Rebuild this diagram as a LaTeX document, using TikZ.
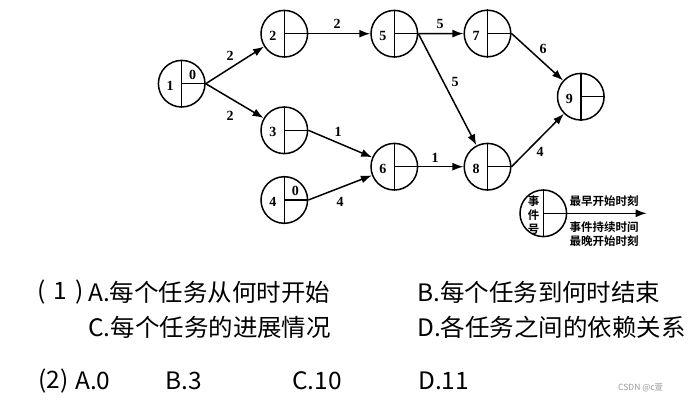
\documentclass[tikz,border=0pt]{standalone}
\usepackage{fontspec}
\setmainfont{Liberation Serif}
\newfontfamily\cjk[FakeStretch=1.02]{Noto Sans CJK SC}
\newfontfamily\cjkwm{Noto Sans CJK SC}
\newfontfamily\cjkb{Noto Sans CJK SC Bold}
\usetikzlibrary{arrows.meta}
\begin{document}
\begin{tikzpicture}[x=1pt,y=-1pt,
  ev/.style={circle,draw,line width=1.5,minimum size=46.6,inner sep=0},
  arr/.style={line width=1.5,-{Latex[length=11,width=8]}},
  num/.style={font=\fontsize{14}{14}\selectfont\bfseries,inner sep=0},
  lab/.style={font=\fontsize{14}{14}\selectfont\bfseries,inner sep=0},
  leg/.style={font=\fontsize{11.5}{11.5}\cjkb\selectfont,inner sep=0},
  q/.style={font=\fontsize{24}{24}\cjk\selectfont,inner sep=0,anchor=west},
  wm/.style={font=\fontsize{8.5}{8.5}\cjkwm\selectfont,inner sep=0,anchor=west,text=black!40}]
\useasboundingbox[fill=white] (0,0) rectangle (689,402);
% events
\foreach \n/\x/\y in {1/181.7/83.7, 2/284.3/33.7, 3/284.3/130.3, 4/284.3/200, 5/394.3/33.7, 6/394.3/166.7, 7/487.5/33.5, 8/487.5/166.7, 9/580.8/96.7}{
  \node[ev] (e\n) at (\x,\y) {};
  \draw[line width=1.5] (e\n.north) -- (e\n.south) (e\n.center) -- (e\n.east);
  \node[num] (t\n) at ([xshift=-11.5,yshift=-2]e\n.center) {\n};
}
\node[num] (z1) at ([xshift=11,yshift=9]e1.center) {0};
\node[num] (z4) at ([xshift=11,yshift=9]e4.center) {0};
% activities
\draw[arr] (e1.east) -- (e2) node[lab] (a12) at (230,56) {2};
\draw[arr] (e1.east) -- (e3) node[lab] (a13) at (230,116) {2};
\draw[arr] (e2.east) -- (e5) node[lab] (a25) at (337,24) {2};
\draw[arr] (e5.east) -- (e7) node[lab] (a57) at (440,24) {5};
\draw[arr] (e5.east) -- (e8) node[lab] (a58) at (455,82) {5};
\draw[arr] (e3.east) -- (e6) node[lab] (a36) at (338,132) {1};
\draw[arr] (e4.east) -- (e6) node[lab] (a46) at (340,202) {4};
\draw[arr] (e6.east) -- (e8) node[lab] (a68) at (435,158) {1};
\draw[arr] (e7.east) -- (e9) node[lab] (a79) at (543,49) {6};
\draw[arr] (e8.east) -- (e9) node[lab] (a89) at (540,152) {4};
% legend
\node[ev] (lg) at (543.3,213.3) {};
\coordinate (lgend) at (646.7,213.3);
\draw[line width=1.5] (lg.north) -- (lg.south);
\draw[arr] (lg.center) -- (lgend);
\node[leg] (lg1) at (533.5,201.5) {事};
\node[leg] (lg2) at (533.5,215.5) {件};
\node[leg] (lg3) at (533.5,229) {号};
\node[leg] (ll1) at (604,201.5) {最早开始时刻};
\node[leg] (ll2) at (604,226.7) {事件持续时间};
\node[leg] (ll3) at (604,241.5) {最晚开始时刻};
% questions
\node[q] (q1) at (37,292) {(\,\,1\,\,)};
\node[q] (q1a) at (88,292) {A.每个任务从何时开始};
\node[q] (q1b) at (417,292) {B.每个任务到何时结束};
\node[q] (q1c) at (88,327) {C.每个任务的进展情况};
\node[q] (q1d) at (417,327) {D.各任务之间的依赖关系};
\node[q] (q2) at (38,381) {(2)};
\node[q] (q2a) at (75,381) {A.0};
\node[q] (q2b) at (165,381) {B.3};
\node[q] (q2c) at (292,381) {C.10};
\node[q] (q2d) at (418,381) {D.11};
\node[wm] (wm) at (618,388) {CSDN @c萱};
\end{tikzpicture}
\end{document}
